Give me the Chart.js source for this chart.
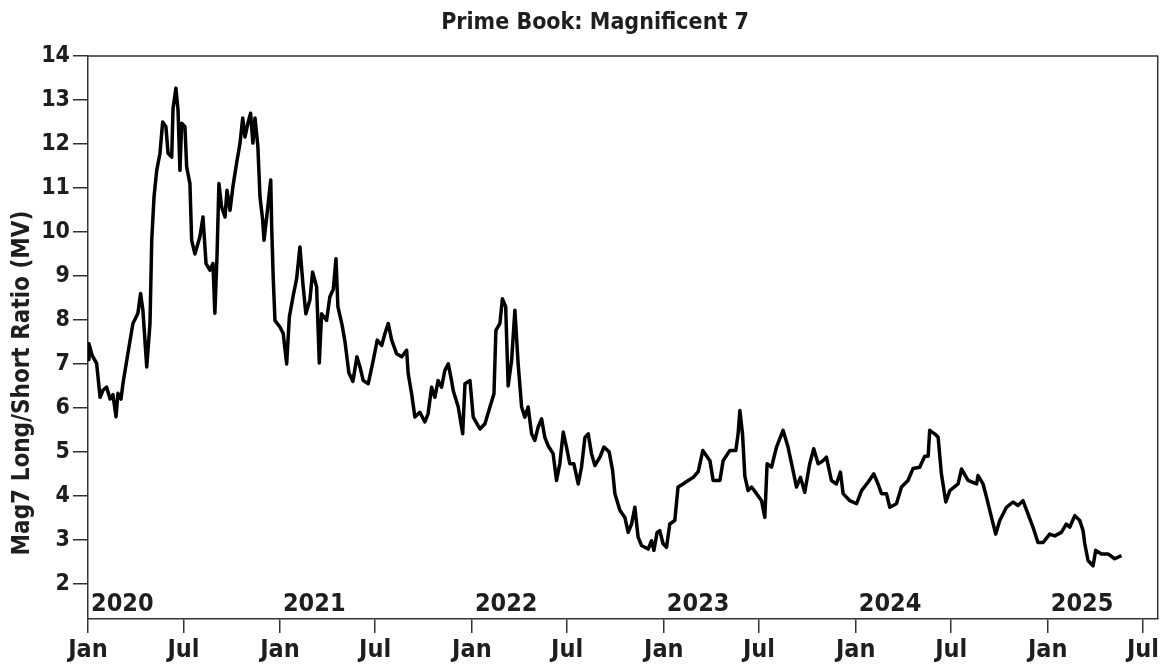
<!DOCTYPE html>
<html><head><meta charset="utf-8">
<script src="https://cdn.jsdelivr.net/npm/chart.js@4/dist/chart.umd.min.js"></script>
<style>html,body{margin:0;padding:0;background:#fff;overflow:hidden}#wrap{width:1161px;height:664px}</style>
</head><body><div id="wrap"><canvas id="c" width="1161" height="664"></canvas></div>
<script>
const FONT = "'Liberation Sans Narrow','Arial Narrow','DejaVu Sans Condensed',Roboto,sans-serif";
const titleText = 'Prime Book: Magnificent 7';
const yAxisTitle = 'Mag7 Long/Short Ratio (MV)';
const years = [2020, 2021, 2022, 2023, 2024, 2025];
const monthTickLabels = ['Jan', 'Jul'];
const yTicks = [2, 3, 4, 5, 6, 7, 8, 9, 10, 11, 12, 13, 14];
// positions in decimal years
const dates = [
2020.000,2020.005,2020.021,2020.045,2020.063,2020.078,2020.097,2020.115,2020.130,2020.146,
2020.156,2020.172,2020.182,2020.208,2020.234,2020.260,2020.274,2020.286,2020.306,2020.323,
2020.332,2020.344,2020.358,2020.375,2020.389,2020.406,2020.417,2020.436,2020.443,2020.458,
2020.469,2020.479,2020.488,2020.505,2020.514,2020.531,2020.540,2020.557,2020.583,2020.599,
2020.615,2020.635,2020.651,2020.661,2020.672,2020.682,2020.696,2020.714,2020.724,2020.740,
2020.755,2020.774,2020.792,2020.806,2020.818,2020.833,2020.847,2020.859,2020.870,2020.885,
2020.896,2020.910,2020.917,2020.931,2020.952,2020.957,2020.965,2020.974,2021.000,2021.017,
2021.035,2021.049,2021.069,2021.087,2021.104,2021.120,2021.135,2021.156,2021.170,2021.191,
2021.205,2021.217,2021.243,2021.260,2021.278,2021.292,2021.302,2021.323,2021.339,2021.359,
2021.380,2021.401,2021.417,2021.434,2021.460,2021.486,2021.507,2021.530,2021.547,2021.564,
2021.582,2021.608,2021.634,2021.660,2021.668,2021.686,2021.703,2021.729,2021.755,2021.772,
2021.790,2021.807,2021.824,2021.842,2021.859,2021.877,2021.894,2021.903,2021.929,2021.952,
2021.964,2021.990,2022.007,2022.042,2022.068,2022.094,2022.115,2022.125,2022.146,2022.159,
2022.176,2022.189,2022.207,2022.224,2022.241,2022.259,2022.276,2022.293,2022.311,2022.328,
2022.345,2022.363,2022.380,2022.397,2022.423,2022.441,2022.458,2022.476,2022.493,2022.510,
2022.531,2022.554,2022.571,2022.589,2022.606,2022.623,2022.641,2022.667,2022.688,2022.715,
2022.733,2022.745,2022.771,2022.797,2022.814,2022.832,2022.849,2022.866,2022.884,2022.918,
2022.936,2022.948,2022.965,2022.979,2022.996,2023.014,2023.031,2023.057,2023.074,2023.100,
2023.127,2023.153,2023.179,2023.203,2023.240,2023.257,2023.292,2023.309,2023.344,2023.375,
2023.387,2023.396,2023.410,2023.422,2023.439,2023.457,2023.483,2023.509,2023.526,2023.538,
2023.561,2023.587,2023.621,2023.647,2023.673,2023.691,2023.712,2023.734,2023.760,2023.781,
2023.804,2023.830,2023.847,2023.873,2023.899,2023.920,2023.934,2023.969,2024.004,2024.030,
2024.064,2024.094,2024.116,2024.134,2024.160,2024.177,2024.212,2024.238,2024.272,2024.298,
2024.333,2024.359,2024.377,2024.385,2024.411,2024.429,2024.446,2024.469,2024.490,2024.533,
2024.551,2024.585,2024.629,2024.637,2024.663,2024.681,2024.707,2024.729,2024.750,2024.785,
2024.819,2024.845,2024.871,2024.897,2024.923,2024.949,2024.976,2025.010,2025.036,2025.071,
2025.097,2025.115,2025.141,2025.167,2025.184,2025.193,2025.210,2025.236,2025.250,2025.280,
2025.314,2025.349,2025.384
];
const ratio = [
7.10,7.46,7.20,7.01,6.24,6.40,6.47,6.20,6.30,5.80,
6.33,6.20,6.55,7.24,7.92,8.15,8.60,8.22,6.93,7.92,
9.81,10.80,11.40,11.79,12.50,12.39,11.79,11.70,12.80,13.27,
12.77,11.40,12.47,12.39,11.48,11.10,9.81,9.50,9.89,10.34,
9.28,9.13,9.28,8.15,9.43,11.10,10.57,10.34,10.95,10.49,
11.03,11.56,12.02,12.59,12.16,12.47,12.70,12.02,12.59,11.94,
10.80,10.27,9.81,10.34,11.18,10.11,8.95,7.99,7.84,7.69,
7.00,8.07,8.55,8.94,9.66,8.80,8.14,8.45,9.09,8.75,
7.02,8.14,7.99,8.52,8.70,9.39,8.30,7.90,7.50,6.80,
6.60,7.16,6.93,6.62,6.55,7.08,7.54,7.42,7.69,7.92,
7.54,7.23,7.16,7.31,6.78,6.32,5.79,5.90,5.68,5.87,
6.47,6.24,6.62,6.47,6.85,7.00,6.62,6.39,6.02,5.41,
6.55,6.62,5.79,5.52,5.64,6.02,6.32,7.76,7.92,8.48,
8.30,6.50,7.08,8.22,7.00,6.02,5.79,6.02,5.41,5.26,
5.56,5.75,5.33,5.14,4.96,4.35,4.73,5.45,5.11,4.73,
4.73,4.27,4.65,5.33,5.41,4.96,4.69,4.88,5.11,5.00,
4.58,4.05,3.67,3.51,3.17,3.36,3.74,3.06,2.87,2.79,
2.98,2.76,3.17,3.21,2.91,2.83,3.36,3.44,4.20,4.27,
4.35,4.42,4.55,5.03,4.80,4.35,4.35,4.80,5.03,5.03,
5.41,5.94,5.40,4.45,4.12,4.20,4.05,3.89,3.51,4.73,
4.65,5.11,5.49,5.11,4.58,4.20,4.42,4.08,4.73,5.07,
4.73,4.80,4.88,4.35,4.27,4.54,4.05,3.89,3.82,4.12,
4.31,4.50,4.27,4.05,4.05,3.74,3.82,4.20,4.35,4.62,
4.65,4.90,4.90,5.49,5.41,5.33,4.50,3.86,4.12,4.27,
4.61,4.35,4.27,4.46,4.27,3.97,3.51,3.13,3.44,3.74,
3.86,3.78,3.89,3.59,3.29,2.94,2.94,3.13,3.09,3.17,
3.36,3.29,3.55,3.44,3.21,2.91,2.53,2.41,2.76,2.68,
2.68,2.57,2.64
];

const X_MIN = 2020, X_MAX = 2025.573, Y_MIN = 1.2, Y_MAX = 14;
const INK = '#1e1e1e';

function julPos(y) {
  const leap = (y % 4 === 0 && (y % 100 !== 0 || y % 400 === 0));
  return y + (leap ? 182 : 181) / (leap ? 366 : 365);
}

const decor = {
  id: 'decor',
  afterDatasetsDraw(chart) {
    const {ctx, chartArea: a} = chart;
    ctx.save();
    // plot frame (top/right)
    ctx.strokeStyle = '#333';
    ctx.lineWidth = 1.5;
    ctx.beginPath();
    ctx.moveTo(a.left, a.top); ctx.lineTo(a.right, a.top); ctx.lineTo(a.right, a.bottom);
    ctx.stroke();
    ctx.fillStyle = INK;
    // year labels inside the plot
    const xs = chart.scales.x;
    ctx.font = 'bold 25px ' + FONT;
    ctx.textBaseline = 'alphabetic';
    ctx.textAlign = 'left';
    years.forEach(y => ctx.fillText(String(y), xs.getPixelForValue(y) + 3, a.bottom - 8));
    // chart title
    ctx.font = 'bold 23px ' + FONT;
    ctx.textAlign = 'center';
    ctx.textBaseline = 'middle';
    ctx.fillText(titleText, 595, 23);
    // y axis title
    ctx.font = 'bold 24px ' + FONT;
    ctx.translate(23, 383);
    ctx.rotate(-Math.PI / 2);
    ctx.fillText(yAxisTitle, 0, 0);
    ctx.restore();
  }
};

new Chart(document.getElementById('c'), {
  type: 'line',
  data: {
    datasets: [{
      data: dates.map((d, i) => ({x: d, y: ratio[i]})),
      borderColor: '#000',
      borderWidth: 3.5,
      pointRadius: 0,
      tension: 0,
      borderJoinStyle: 'round',
      fill: false
    }]
  },
  options: {
    responsive: false,
    animation: false,
    devicePixelRatio: 1,
    layout: {padding: {left: 0, right: 3, top: 56, bottom: 0}},
    plugins: {
      legend: {display: false},
      tooltip: {enabled: false},
      title: {display: false}
    },
    scales: {
      x: {
        type: 'linear', min: X_MIN, max: X_MAX,
        afterBuildTicks(s) {
          const t = [];
          years.forEach(y => { t.push({value: y}); t.push({value: julPos(y)}); });
          s.ticks = t.filter(k => k.value >= X_MIN && k.value <= X_MAX);
        },
        afterFit(s) { s.height = 45; },
        ticks: {
          autoSkip: false, maxRotation: 0, padding: 2, color: INK,
          font: {family: FONT, size: 25, weight: 'bold'},
          callback: v => Math.abs(v - Math.round(v)) < 1e-6 ? monthTickLabels[0] : monthTickLabels[1]
        },
        grid: {drawOnChartArea: false, drawTicks: true, tickLength: 14, color: '#333', lineWidth: 1.5},
        border: {display: true, color: '#333', width: 1.5}
      },
      y: {
        type: 'linear', min: Y_MIN, max: Y_MAX,
        afterBuildTicks(s) { s.ticks = yTicks.map(v => ({value: v})); },
        afterFit(s) { s.width = 88; },
        ticks: {
          autoSkip: false, padding: 3, color: INK,
          font: {family: FONT, size: 23, weight: 'bold'}
        },
        title: {display: false},
        grid: {drawOnChartArea: false, drawTicks: true, tickLength: 15, color: '#333', lineWidth: 1.5},
        border: {display: true, color: '#333', width: 1.5}
      }
    }
  },
  plugins: [decor]
});
</script>
</body></html>
